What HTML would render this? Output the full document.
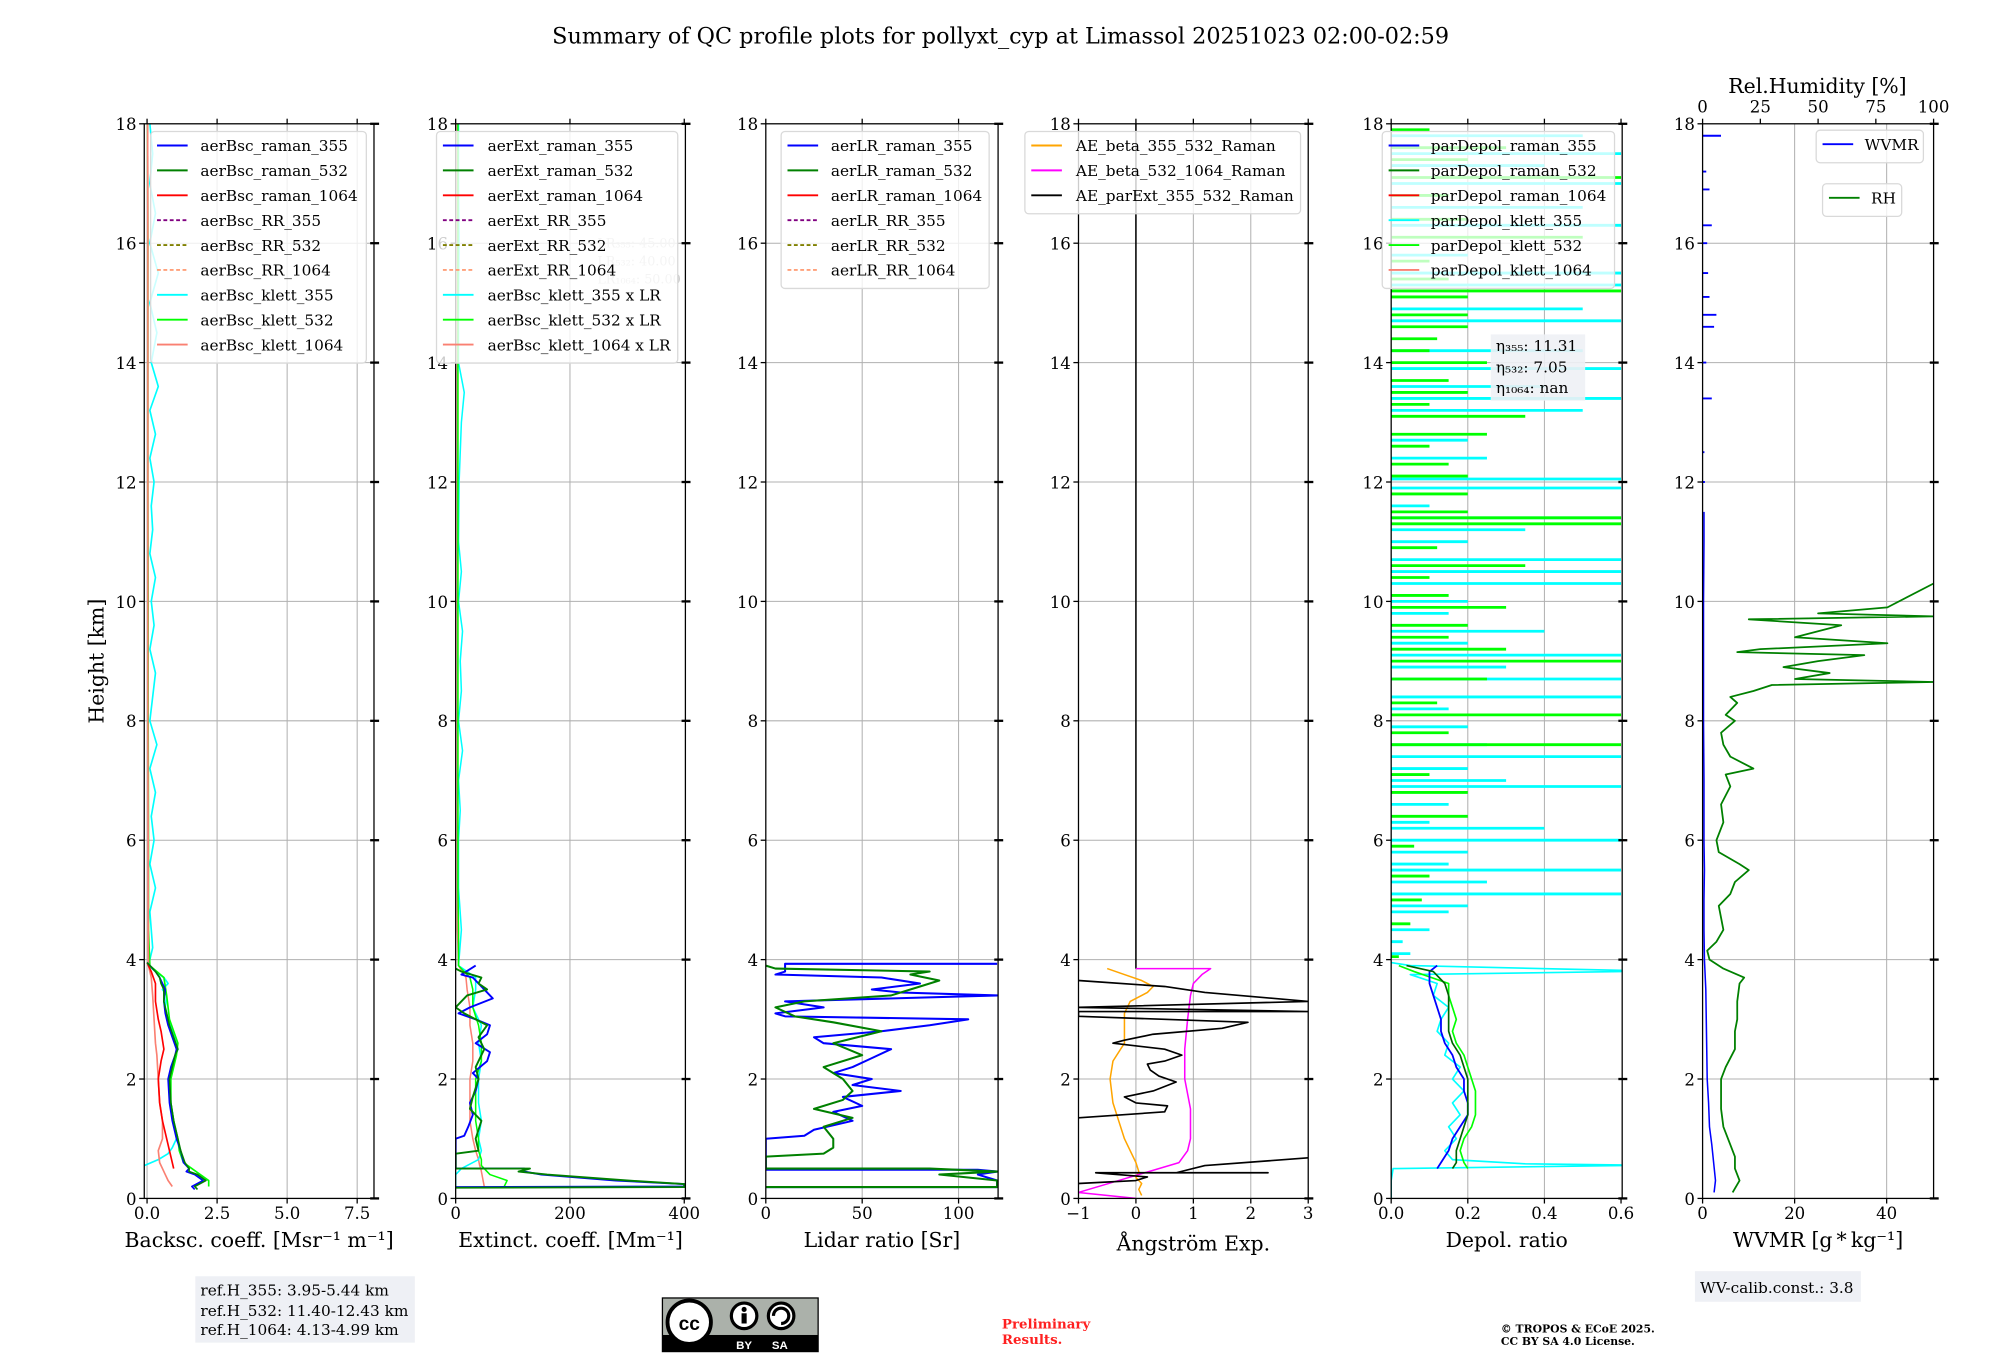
<!DOCTYPE html>
<html><head><meta charset="utf-8"><title>QC profile plots</title>
<style>
html,body{margin:0;padding:0;background:#fff;}
svg{display:block;font-family:"DejaVu Serif","Liberation Serif",serif;}
</style></head>
<body>
<svg id="fig" width="2000" height="1360" viewBox="0 0 1567 1065.6" xmlns="http://www.w3.org/2000/svg">
<rect x="0" y="0" width="1567" height="1066" fill="#fff"/>
<text x="784" y="34" font-size="17.5" text-anchor="middle">Summary of QC profile plots for pollyxt_cyp at Limassol 20251023 02:00-02:59</text>
<g id="g"></g>
</svg>
<script>
// ---------- DATA ----------
const heightTicks = [0,2,4,6,8,10,12,14,16,18];
const bscTicks = [0.0,2.5,5.0,7.5];
const bscTickLabels = ["0.0","2.5","5.0","7.5"];
const extTicks = [0,200,400];
const lrTicks = [0,50,100];
const aeTicks = [-1,0,1,2,3];
const aeTickLabels = ["\u22121","0","1","2","3"];
const depTicks = [0.0,0.2,0.4,0.6];
const depTickLabels = ["0.0","0.2","0.4","0.6"];
const wvTicks = [0,20,40];
const rhTicks = [0,25,50,75,100];

// backscatter [Msr-1 m-1]
const bscH = [0.15,0.2,0.3,0.4,0.45,0.5,0.6,0.8,1.0,1.3,1.6,2.0,2.2,2.4,2.5,2.7,2.9,3.1,3.3,3.5,3.6,3.7,3.8,3.95];
const bsc355 = [1.7,1.6,2.0,1.7,1.4,1.5,1.3,1.2,1.05,0.9,0.8,0.75,0.85,1.0,1.05,0.9,0.75,0.65,0.6,0.65,0.55,0.45,0.3,0.0];
const bsc532 = [1.8,1.7,2.1,1.8,1.5,1.5,1.35,1.2,1.1,0.95,0.85,0.8,0.9,1.0,1.1,0.95,0.8,0.7,0.6,0.6,0.5,0.45,0.3,0.0];
const bscH1064 = [0.5,0.8,1.0,1.3,1.6,2.0,2.3,2.5,2.8,3.0,3.3,3.6,3.8,3.95];
const bsc1064 = [0.95,0.8,0.7,0.55,0.45,0.4,0.5,0.6,0.5,0.4,0.3,0.3,0.15,0.0];
const bscKH = [0.55,0.65,0.75,0.85,1.0,1.3,1.6,2.0,2.3,2.5,2.8,3.0,3.2,3.4,3.5,3.6,3.7,3.8,3.9,4.2,4.8,5.2,5.6,6.0,6.4,6.8,7.2,7.6,8.0,8.4,8.8,9.2,9.6,10.0,10.4,10.8,11.2,11.6,12.0,12.4,12.8,13.2,13.6,14.0,14.5,15.0,15.5,16.0,16.5,17.0,17.5,18.0];
const bscK355 = [-0.1,0.4,0.75,0.9,1.05,0.95,0.85,0.8,0.95,1.1,0.9,0.75,0.65,0.7,0.55,0.75,0.6,0.3,0.05,0.2,0.1,0.3,0.1,0.25,0.15,0.3,0.1,0.35,0.1,0.2,0.3,0.1,0.25,0.15,0.3,0.1,0.2,0.15,0.25,0.1,0.3,0.1,0.4,0.15,0.35,0.1,0.4,0.1,0.3,0.1,0.2,0.1];
const bscKH532 = [0.2,0.3,0.4,0.5,0.6,0.8,1.0,1.3,1.6,2.0,2.4,2.6,3.0,3.4,3.7,3.9,4.5,6.0,8.0,10.0,12.0,14.0,16.0,18.0];
const bscK532 = [2.2,2.2,1.9,1.6,1.3,1.15,1.1,0.95,0.85,0.85,1.05,1.1,0.8,0.7,0.6,0.1,0.05,0.05,0.04,0.04,0.03,0.03,0.03,0.02];
const bscK1064 = [0.9,0.75,0.65,0.55,0.45,0.4,0.55,0.55,0.45,0.4,0.35,0.3,0.25,0.2,0.15,0.05,0.04,0.04,0.03,0.03,0.03,0.03,0.03,0.02];

// extinction [Mm-1]
const extH355 = [0.19,0.2,0.24,0.3,0.4,0.45,0.5,0.5,1.0,1.05,1.2,1.4,1.6,1.8,2.0,2.1,2.3,2.45,2.6,2.75,2.9,3.0,3.1,3.2,3.35,3.45,3.55,3.7,3.75,3.9];
const ext355 = [0,400,400,280,150,120,120,0,0,15,22,30,25,35,40,30,55,60,35,55,60,35,5,25,65,55,45,30,10,35];
const extH532 = [0.18,0.19,0.24,0.3,0.4,0.45,0.5,0.5,0.75,0.8,1.0,1.3,1.5,1.7,2.0,2.2,2.5,2.7,2.9,3.1,3.2,3.4,3.5,3.6,3.7,3.8,3.85];
const ext532 = [0,400,400,300,160,110,130,0,0,40,35,45,25,30,40,35,50,40,55,15,0,20,55,40,45,10,0];
const extKH = [0.2,0.3,0.4,0.5,0.55,0.65,0.8,1.0,1.3,1.6,2.0,2.3,2.6,2.9,3.2,3.5,3.7,3.9,4.5,5.2,6.0,6.5,7.0,7.5,8.0,8.5,9.0,9.5,10.0,10.5,11.0,12.0,13.0,13.5,14.0,15.0,16.0,17.0,18.0];
const extK355 = [0,0,0,10,20,40,45,40,45,40,40,45,40,45,30,35,35,5,10,5,5,8,5,12,5,10,8,12,5,10,5,6,10,15,5,5,6,5,5];
const extK532 = [85,90,60,50,45,45,40,40,35,35,35,45,45,40,30,30,25,5,5,4,4,4,4,4,4,4,4,4,4,4,4,4,4,4,4,4,4,4,4];
const extK1064 = [50,48,46,44,42,40,35,30,25,25,25,30,30,25,25,20,18,5,3,3,3,3,3,3,3,3,3,3,3,3,3,3,3,3,3,3,3,3,3];

// lidar ratio [Sr]
const lrH355 = [0.19,0.19,0.3,0.4,0.45,0.48,0.48,1.0,1.05,1.15,1.3,1.45,1.55,1.7,1.8,1.9,2.0,2.1,2.2,2.35,2.5,2.6,2.7,2.8,2.9,3.0,3.05,3.1,3.2,3.3,3.4,3.45,3.5,3.6,3.7,3.75,3.8,3.93,3.93];
const lr355 = [0,120,120,110,120,110,0,0,20,25,45,35,50,40,70,45,55,35,45,55,65,30,25,60,85,105,10,5,30,10,120,70,55,80,60,5,10,10,120];
const lrH532 = [0.19,0.19,0.3,0.4,0.45,0.5,0.5,0.7,0.75,0.85,1.0,1.2,1.35,1.5,1.65,1.8,2.0,2.2,2.4,2.6,2.8,2.95,3.05,3.2,3.3,3.4,3.55,3.65,3.75,3.8,3.85,3.9];
const lr532 = [0,120,120,90,120,85,0,0,30,35,35,30,45,25,40,45,40,30,50,35,60,35,15,5,20,65,80,90,75,85,5,0];

// Angstrom exponents
const aeH1 = [0.05,0.15,0.25,0.35,0.45,0.6,0.8,1.0,1.3,1.6,2.0,2.3,2.6,2.9,3.1,3.3,3.45,3.55,3.65,3.75,3.85];
const ae1 = [0.1,0.05,0.1,0.0,0.05,0.0,-0.1,-0.2,-0.3,-0.4,-0.45,-0.4,-0.2,-0.2,-0.2,-0.1,0.2,0.3,0.1,-0.2,-0.5];
const aeH2 = [0.0,0.1,0.6,0.8,1.0,1.5,2.0,2.5,3.0,3.4,3.6,3.75,3.85,3.85];
const ae2 = [0.0,-1.0,0.75,0.9,0.95,0.95,0.85,0.85,0.9,0.95,1.0,1.15,1.3,0.0];
const aeH3 = [0.25,0.3,0.36,0.43,0.43,0.43,0.55,0.68];
const ae3 = [-1.0,0.0,0.2,-0.7,2.3,0.7,1.2,3.0];
const aeH3b = [1.35,1.45,1.55,1.6,1.7,1.8,1.95,2.05,2.15,2.25,2.3,2.4,2.5,2.6,2.65,2.75,2.85,2.95,3.0,3.05,3.13,3.13,3.2,3.3,3.45,3.55,3.65];
const ae3b = [-1.0,0.5,0.55,0.0,-0.2,0.3,0.7,0.4,0.25,0.2,0.5,0.8,0.5,-0.4,-0.2,0.3,1.5,1.95,0.5,-1.0,-1.0,3.0,-1.0,3.0,1.2,0.5,-1.0];

// particle depolarisation ratio
const depH = [0.5,0.6,0.8,1.0,1.2,1.4,1.6,1.8,2.0,2.2,2.4,2.6,2.8,3.0,3.2,3.4,3.6,3.8,3.9];
const dep355 = [0.12,0.13,0.15,0.16,0.18,0.2,0.2,0.19,0.19,0.17,0.16,0.14,0.13,0.13,0.12,0.11,0.1,0.1,0.12];
const dep532 = [0.16,0.17,0.17,0.18,0.19,0.2,0.2,0.2,0.2,0.19,0.18,0.16,0.15,0.15,0.15,0.15,0.14,0.11,0.04];
const depK532 = [0.2,0.19,0.18,0.19,0.21,0.22,0.22,0.22,0.21,0.2,0.19,0.17,0.16,0.17,0.16,0.15,0.15,0.06,0.02];
const depKH355 = [0.0,0.3,0.5,0.55,0.56,0.58,0.65,0.8,1.0,1.2,1.4,1.6,1.8,2.0,2.2,2.4,2.6,2.8,3.0,3.2,3.4,3.6,3.75,3.8,3.82,3.9,3.95];
const depK355 = [0.0,0.0,0.005,0.6,0.6,0.35,0.16,0.14,0.17,0.15,0.18,0.16,0.19,0.16,0.18,0.14,0.15,0.12,0.13,0.15,0.11,0.12,0.05,0.6,0.6,0.05,0.0];
const spikeH355 = [4.1,4.3,4.5,4.8,4.9,5.1,5.3,5.5,5.6,5.8,6.0,6.2,6.3,6.6,6.9,7.0,7.2,7.4,7.6,7.9,8.2,8.4,8.7,8.9,9.1,9.3,9.5,9.8,10.0,10.3,10.5,10.7,11.0,11.2,11.4,11.6,11.9,12.05,12.4,12.7,13.2,13.4,13.6,13.9,14.2,14.7,14.9,15.3,15.5,15.8,16.3,16.6,17.0,17.3,17.5,17.8];
const spike355 = [0.05,0.03,0.1,0.15,0.2,0.6,0.25,0.6,0.15,0.2,0.6,0.4,0.1,0.15,0.6,0.3,0.2,0.6,0.25,0.2,0.15,0.6,0.6,0.3,0.6,0.2,0.4,0.15,0.2,0.6,0.6,0.6,0.2,0.35,0.6,0.1,0.6,0.6,0.25,0.2,0.5,0.6,0.4,0.6,0.5,0.6,0.5,0.6,0.6,0.2,0.6,0.5,0.6,0.4,0.6,0.5];
const spikeH532 = [4.05,4.6,5.0,5.4,5.9,6.4,6.8,7.1,7.6,7.8,8.1,8.3,8.7,9.0,9.2,9.4,9.6,9.9,10.1,10.4,10.6,10.9,11.3,11.4,11.5,11.8,12.1,12.3,12.6,12.8,13.1,13.3,13.5,13.7,14.0,14.2,14.4,14.6,14.8,15.1,15.2,15.4,15.7,16.1,16.4,16.8,17.1,17.4,17.6,17.9];
const spike532 = [0.02,0.05,0.08,0.1,0.06,0.2,0.2,0.1,0.6,0.15,0.6,0.12,0.25,0.6,0.3,0.15,0.2,0.3,0.15,0.1,0.35,0.12,0.6,0.6,0.2,0.2,0.2,0.15,0.1,0.25,0.35,0.1,0.2,0.15,0.25,0.1,0.12,0.2,0.2,0.2,0.6,0.15,0.1,0.5,0.2,0.15,0.6,0.2,0.3,0.1];

// water vapour
const wvH = [0.1,0.3,0.6,0.9,1.2,1.6,2.0,2.5,3.0,3.5,4.0,4.5,5.0,5.5,6.0,7.0,8.0,9.0,10.0,11.0,11.5];
const wvmr = [2.5,2.8,2.4,2.0,1.5,1.3,1.0,0.9,0.8,0.7,0.4,0.3,0.3,0.4,0.3,0.3,0.2,0.2,0.2,0.3,0.3];
const wvDashH = [12.0,12.5,13.4,14.0,14.6,14.8,15.1,15.5,16.0,16.3,16.9,17.2,17.8];
const wvDash = [0.5,0.4,2,0.8,2.5,3,1.5,1.2,1.0,2,1.5,0.8,4];
const rhH = [0.1,0.3,0.5,0.7,0.9,1.2,1.5,2.0,2.2,2.5,2.8,3.0,3.3,3.6,3.7,3.85,4.0,4.15,4.3,4.5,4.7,4.9,5.1,5.3,5.5,5.6,5.8,6.0,6.3,6.6,6.9,7.1,7.2,7.4,7.6,7.8,8.0,8.1,8.3,8.4,8.5,8.6,8.65,8.7,8.8,8.9,9.0,9.1,9.15,9.2,9.3,9.4,9.6,9.7,9.75,9.8,9.9,10.3];
const rhPct = [13,16,14,14,12,9,8,8,10,14,14,15,15,16,18,9,3,2,6,9,8,7,12,14,20,16,7,6,9,8,12,10,22,12,9,8,14,10,15,12,22,30,100,40,55,35,50,70,15,25,80,40,60,20,100,50,80,100];

// ---------- DRAWING ----------
const NS = "http://www.w3.org/2000/svg";
const G = document.getElementById('g');
const Y0 = 939, Y1 = 97;
function yS(h){ return Y0 - (h/18)*(Y0-Y1); }
function mk(tag, attrs, name, parent){
  const el = document.createElementNS(NS, tag);
  for (const k in attrs) el.setAttribute(k, attrs[k]);
  
  
  (parent||G).appendChild(el);
  return el;
}
function txt(x,y,s,size,anchor,name,extra){
  const t = mk('text', Object.assign({x:x,y:y,'font-size':size,'text-anchor':anchor||'start',fill:'#000'}, extra||{}), name);
  t.textContent = s;
  return t;
}
const panels = [
  {id:'bsc', x0:113, x1:293, min:-0.1, max:8.1, ticks:bscTicks, labels:bscTickLabels, xlabel:'Backsc. coeff. [Msr\u207B\u00B9 m\u207B\u00B9]'},
  {id:'ext', x0:357, x1:537, min:0, max:402, ticks:extTicks, labels:extTicks.map(String), xlabel:'Extinct. coeff. [Mm\u207B\u00B9]'},
  {id:'lr', x0:600, x1:782, min:0, max:120.5, ticks:lrTicks, labels:lrTicks.map(String), xlabel:'Lidar ratio [Sr]'},
  {id:'ae', x0:845, x1:1025, min:-1, max:3, ticks:aeTicks, labels:aeTickLabels, xlabel:'\u00C5ngstr\u00F6m Exp.'},
  {id:'dep', x0:1090, x1:1271, min:0, max:0.603, ticks:depTicks, labels:depTickLabels, xlabel:'Depol. ratio'},
  {id:'wv', x0:1334, x1:1515, min:0, max:50.2, ticks:wvTicks, labels:wvTicks.map(String), xlabel:'WVMR [g\u2009*\u2009kg\u207B\u00B9]'}
];
function xS(p,v){ return p.x0 + (v-p.min)/(p.max-p.min)*(p.x1-p.x0); }
const defs = mk('defs',{}, 'clip-defs');
panels.forEach((p,i)=>{
  const cp = mk('clipPath',{id:'clip'+i},'clip-'+p.id, defs);
  mk('rect',{x:p.x0,y:Y1,width:p.x1-p.x0,height:Y0-Y1},'clip-rect', cp);
  p.layer = mk('g',{'clip-path':'url(#clip'+i+')'}, p.id+'-plot-area');
  heightTicks.forEach(h=>{ if(h>0&&h<18) mk('line',{x1:p.x0,x2:p.x1,y1:yS(h),y2:yS(h),stroke:'#b0b0b0','stroke-width':0.8},'grid-h-'+h,p.layer); });
  p.ticks.forEach(v=>{ const x=xS(p,v); if(x>p.x0+1&&x<p.x1-1) mk('line',{x1:x,x2:x,y1:Y1,y2:Y0,stroke:'#b0b0b0','stroke-width':0.8},'grid-v',p.layer); });
});
function line(p, hs, vs, color, w, name, dash, opacity){
  let d = '';
  for (let i=0;i<hs.length;i++){ d += (i?'L':'M') + xS(p,vs[i]).toFixed(2) + ' ' + yS(hs[i]).toFixed(2); }
  const a = {d:d,fill:'none',stroke:color,'stroke-width':w||1.3,'stroke-linejoin':'round'};
  if(dash) a['stroke-dasharray']=dash;
  if(opacity) a['stroke-opacity']=opacity;
  return mk('path',a,name,p.layer);
}
function spikes(p, hs, vs, color, w, name){
  let d='';
  for(let i=0;i<hs.length;i++){ const y=yS(hs[i]).toFixed(2); d+='M'+xS(p,0).toFixed(2)+' '+y+'L'+xS(p,vs[i]).toFixed(2)+' '+y; }
  return mk('path',{d:d,fill:'none',stroke:color,'stroke-width':w||2},name,p.layer);
}
const [P1,P2,P3,P4,P5,P6]=panels;
line(P1,bscKH,bscK355,'#00ffff',1.3,'bsc-klett-355');
line(P1,bscKH532,bscK532,'#00ff00',1.3,'bsc-klett-532');
line(P1,bscKH532,bscK1064,'#fa8072',1.3,'bsc-klett-1064');
line(P1,bscH1064,bsc1064,'#ff0000',1.3,'bsc-raman-1064');
line(P1,bscH,bsc355,'#0000ff',1.3,'bsc-raman-355');
line(P1,bscH,bsc532,'#008000',1.3,'bsc-raman-532');
line(P2,extKH,extK1064,'#fa8072',1.2,'ext-klett-1064');
line(P2,extKH,extK355,'#00ffff',1.2,'ext-klett-355');
line(P2,extKH,extK532,'#00ff00',1.2,'ext-klett-532');
line(P2,extH355,ext355,'#0000ff',1.5,'ext-raman-355');
line(P2,extH532,ext532,'#008000',1.5,'ext-raman-532');
line(P3,lrH355,lr355,'#0000ff',1.6,'lr-raman-355');
line(P3,lrH532,lr532,'#008000',1.6,'lr-raman-532');
mk('line',{x1:xS(P4,0),x2:xS(P4,0),y1:yS(3.85),y2:Y1,stroke:'#000','stroke-width':1.2},'ae-parext-upper',P4.layer);
line(P4,aeH1,ae1,'#ffa500',1.2,'ae-beta-355-532');
line(P4,aeH2,ae2,'#ff00ff',1.2,'ae-beta-532-1064');
line(P4,aeH3,ae3,'#000',1.3,'ae-parext-low');
line(P4,aeH3b,ae3b,'#000',1.3,'ae-parext-mid');
spikes(P5,spikeH355,spike355,'#00ffff',2.2,'depol-klett-355-spikes');
spikes(P5,spikeH532,spike532,'#00ff00',2.2,'depol-klett-532-spikes');
line(P5,depKH355,depK355,'#00ffff',1.3,'depol-klett-355');
line(P5,depH,depK532,'#00ff00',1.3,'depol-klett-532');
line(P5,depH,dep355,'#0000ff',1.4,'depol-raman-355');
line(P5,depH,dep532,'#006400',1.3,'depol-raman-532');
line(P6,wvH,wvmr,'#0000ff',1.2,'wvmr-line');
spikes(P6,wvDashH,wvDash,'#0000ff',1.5,'wvmr-upper');
const P6rh = {x0:P6.x0,x1:P6.x1,min:0,max:100,layer:P6.layer};
line(P6rh,rhH,rhPct,'#008000',1.4,'rh-line');

panels.forEach((p,i)=>{
  mk('rect',{x:p.x0,y:Y1,width:p.x1-p.x0,height:Y0-Y1,fill:'none',stroke:'#000','stroke-width':1},p.id+'-axes-frame');
  heightTicks.forEach(h=>{
    const y=yS(h);
    mk('line',{x1:p.x0-4,x2:p.x0,y1:y,y2:y,stroke:'#000','stroke-width':1},'y-tick');
    mk('line',{x1:p.x1-3,x2:p.x1+4,y1:y,y2:y,stroke:'#000','stroke-width':1.8},'y-tick-right');
    txt(p.x0-6,y+5,String(h),13,'end',p.id+'-y-tick-label');
  });
  p.ticks.forEach((v,j)=>{
    const x=xS(p,v);
    mk('line',{x1:x,x2:x,y1:Y0,y2:Y0+4,stroke:'#000','stroke-width':1},'x-tick');
    if(i<5) mk('line',{x1:x,x2:x,y1:Y1,y2:Y1-4,stroke:'#000','stroke-width':1},'x-tick-top');
    txt(x,955,p.labels[j],13,'middle',p.id+'-x-tick-label');
  });
  txt((p.x0+p.x1)/2, i==3?980:977, p.xlabel, 16,'middle',p.id+'-x-axis-title');
});
rhTicks.forEach(v=>{
  const x=xS(P6rh,v);
  mk('line',{x1:x,x2:x,y1:Y1,y2:Y1-4,stroke:'#000','stroke-width':1},'rh-tick');
  txt(x,88,String(v),13,'middle','rh-tick-label');
});
txt(1424,73,'Rel.Humidity [%]',16,'middle','rh-axis-title');
txt(0,0,'Height [km]',16,'middle','y-axis-title',{transform:'translate(81,518) rotate(-90)'});

function legend(x,y,w,items,name,textX,alpha){
  const lg = mk('g',{},name);
  mk('rect',{x:x,y:y,width:w,height:items.length*19.5+6,rx:3,fill:'#fff','fill-opacity':alpha||0.8,stroke:'#d9d9d9','stroke-width':1},name+'-box',lg);
  items.forEach((it,k)=>{
    const yy = y+11+k*19.5;
    const a={x1:x+5,x2:x+29,y1:yy,y2:yy,stroke:it[1],'stroke-width':1.5};
    if(it[2]) a['stroke-dasharray']='3,2';
    mk('line',a,'legend-swatch',lg);
    const t = mk('text',{x:textX,y:yy+4.5,'font-size':12,fill:'#000'},'legend-entry',lg);
    t.textContent=it[0];
  });
}
const bscLegend=[['aerBsc_raman_355','#0000ff'],['aerBsc_raman_532','#008000'],['aerBsc_raman_1064','#ff0000'],['aerBsc_RR_355','#800080',1],['aerBsc_RR_532','#808000',1],['aerBsc_RR_1064','#ffa07a',1],['aerBsc_klett_355','#00ffff'],['aerBsc_klett_532','#00ff00'],['aerBsc_klett_1064','#fa8072']];
legend(118,103,169,bscLegend,'bsc-legend',157);
['LR\u2083\u2085\u2085: 45.00','LR\u2085\u2083\u2082: 40.00','LR\u2081\u2080\u2086\u2084: 50.00'].forEach((s,k)=>txt(468,194+k*14,s,10,'start','lr-fixed-value',{fill:'#c8c8c8'}));
const extLegend=[['aerExt_raman_355','#0000ff'],['aerExt_raman_532','#008000'],['aerExt_raman_1064','#ff0000'],['aerExt_RR_355','#800080',1],['aerExt_RR_532','#808000',1],['aerExt_RR_1064','#ffa07a',1],['aerBsc_klett_355 x LR','#00ffff'],['aerBsc_klett_532 x LR','#00ff00'],['aerBsc_klett_1064 x LR','#fa8072']];
legend(342,103,189,extLegend,'ext-legend',382);
const lrLegend=[['aerLR_raman_355','#0000ff'],['aerLR_raman_532','#008000'],['aerLR_raman_1064','#ff0000'],['aerLR_RR_355','#800080',1],['aerLR_RR_532','#808000',1],['aerLR_RR_1064','#ffa07a',1]];
legend(612,103,163,lrLegend,'lr-legend',651);
const aeLegend=[['AE_beta_355_532_Raman','#ffa500'],['AE_beta_532_1064_Raman','#ff00ff'],['AE_parExt_355_532_Raman','#000000']];
legend(803,103,216,aeLegend,'ae-legend',843);
const depLegend=[['parDepol_raman_355','#0000ff'],['parDepol_raman_532','#008000'],['parDepol_raman_1064','#ff0000'],['parDepol_klett_355','#00ffff'],['parDepol_klett_532','#00ff00'],['parDepol_klett_1064','#fa8072']];
legend(1083,103,182,depLegend,'depol-legend',1121,0.75);
legend(1423,102,84,[['WVMR','#0000ff']],'wvmr-legend',1461);
legend(1428,144,62,[['RH','#008000']],'rh-legend',1466);

mk('rect',{x:1168,y:262,width:74,height:52,fill:'#eef1f5','fill-opacity':0.9},'eta-box');
txt(1172,275,'\u03B7\u2083\u2085\u2085: 11.31',12,'start','eta-355');
txt(1172,292,'\u03B7\u2085\u2083\u2082: 7.05',12,'start','eta-532');
txt(1172,308,'\u03B7\u2081\u2080\u2086\u2084: nan',12,'start','eta-1064');

mk('rect',{x:153,y:1000,width:172,height:52,fill:'#eef0f5'},'ref-height-box');
txt(157,1015,'ref.H_355: 3.95-5.44 km',12,'start','ref-h-355');
txt(157,1031,'ref.H_532: 11.40-12.43 km',12,'start','ref-h-532');
txt(157,1046,'ref.H_1064: 4.13-4.99 km',12,'start','ref-h-1064');
mk('rect',{x:1328,y:996,width:130,height:24,fill:'#eef0f5'},'wv-calib-box');
txt(1332,1013,'WV-calib.const.: 3.8',12,'start','wv-calib-const');
const cc = mk('g',{},'cc-by-sa-logo');
mk('rect',{x:519,y:1017,width:122,height:42,fill:'#abb1aa',stroke:'#000','stroke-width':1},'cc-logo-bg',cc);
mk('rect',{x:519,y:1046,width:122,height:13,fill:'#000'},'cc-logo-strip',cc);
mk('circle',{cx:540,cy:1036,r:17,fill:'#fff',stroke:'#000','stroke-width':3},'cc-circle',cc);
mk('circle',{cx:583,cy:1031,r:10,fill:'#fff',stroke:'#000','stroke-width':2.5},'by-circle',cc);
mk('circle',{cx:612,cy:1031,r:10,fill:'#fff',stroke:'#000','stroke-width':2.5},'sa-circle',cc);
mk('circle',{cx:583,cy:1026,r:2,fill:'#000'},'by-head',cc);
mk('rect',{x:581,y:1029,width:4,height:8,fill:'#000'},'by-body',cc);
mk('path',{d:'M606 1031 A6 6 0 1 1 612 1037',fill:'none',stroke:'#000','stroke-width':2.5},'sa-arrow',cc);
const cct=mk('text',{x:540,y:1042,'font-size':15,'font-weight':'bold','text-anchor':'middle',fill:'#000','font-family':'Liberation Sans, sans-serif'},'cc-text',cc); cct.textContent='cc';
const byt=mk('text',{x:583,y:1057,'font-size':9,'font-weight':'bold','text-anchor':'middle',fill:'#fff','font-family':'Liberation Sans, sans-serif'},'by-text',cc); byt.textContent='BY';
const sat=mk('text',{x:611,y:1057,'font-size':9,'font-weight':'bold','text-anchor':'middle',fill:'#fff','font-family':'Liberation Sans, sans-serif'},'sa-text',cc); sat.textContent='SA';
txt(785,1041,'Preliminary',10.5,'start','preliminary-text',{fill:'#ff2020','font-weight':'bold'});
txt(785,1053,'Results.',10.5,'start','results-text',{fill:'#ff2020','font-weight':'bold'});
txt(1176,1044,'\u00A9 TROPOS & ECoE 2025.',8.5,'start','copyright-text',{'font-weight':'bold'});
txt(1176,1054,'CC BY SA 4.0 License.',8.5,'start','license-text',{'font-weight':'bold'});
</script>
</body></html>
